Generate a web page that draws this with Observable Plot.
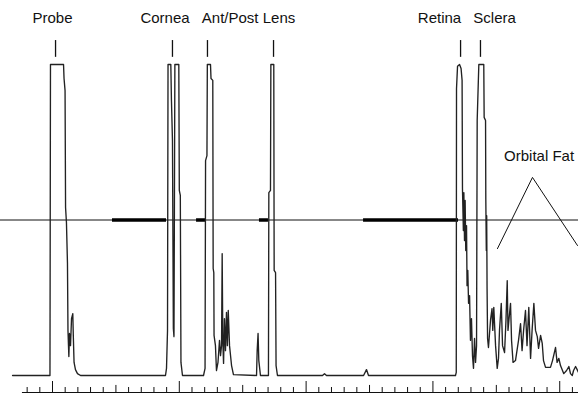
<!DOCTYPE html>
<html>
<head>
<meta charset="utf-8">
<script src="https://cdn.jsdelivr.net/npm/d3@7"></script>
<script src="https://cdn.jsdelivr.net/npm/@observablehq/plot@0.6"></script>
<style>
  html, body { margin: 0; padding: 0; background: #fff; }
  #chart svg { display: block; }
</style>
</head>
<body>
<div id="chart"></div>
<script>
// A-scan echo trace: depth (mm) vs echo amplitude (% of saturation)
const depthMm = [
  6.85, 9.80, 9.84, 10.87, 10.91, 10.99, 11.03, 11.10, 11.18, 11.22,
  11.29, 11.34, 11.42, 11.50, 11.60, 11.64, 11.70, 11.81, 11.97, 12.21,
  18.91, 18.99, 19.07, 19.11, 19.33, 19.38, 19.46, 19.53, 19.58, 19.65,
  19.96, 20.00, 20.08, 20.13, 20.25, 21.91, 22.03, 22.07, 22.18, 22.21,
  22.46, 22.50, 22.64, 22.67, 22.72, 22.74, 22.85, 22.93, 23.05, 23.17,
  23.25, 23.33, 23.38, 23.43, 23.49, 23.56, 23.64, 23.72, 23.79, 23.86,
  23.96, 24.12, 24.27, 26.09, 26.14, 26.21, 26.27, 26.40, 27.03, 27.06,
  27.19, 27.22, 27.45, 27.48, 27.59, 27.63, 27.74, 31.29, 31.45, 31.61,
  34.53, 34.76, 34.92, 41.78, 41.84, 41.86, 41.94, 42.10, 42.22, 42.30,
  42.33, 42.40, 42.44, 42.49, 42.54, 42.59, 42.65, 42.69, 42.75, 42.81,
  42.89, 42.96, 43.04, 43.12, 43.20, 43.28, 43.36, 43.44, 43.49, 43.62,
  44.01, 44.04, 44.15, 44.17, 44.21, 44.24, 44.27, 44.31, 44.38, 44.54,
  44.66, 44.72, 44.80, 44.94, 45.07, 45.17, 45.25, 45.39, 45.49, 45.65,
  45.76, 45.86, 45.92, 45.99, 46.12, 46.20, 46.32, 46.51, 46.75, 46.91,
  47.03, 47.15, 47.30, 47.42, 47.56, 47.70, 47.82, 47.96, 48.09, 48.23,
  48.33, 48.49, 48.62, 48.72, 48.88, 49.27, 49.43, 49.67, 49.79, 49.93,
  50.06, 50.32, 50.54, 50.72, 50.85, 50.99, 51.09, 51.25, 51.48
];
const amplitude = [
  0, 0, 100, 100, 95.5, 91.6, 54.0, 49.2, 36.0, 14.5,
  6.1, 13.5, 9.6, 18.3, 19.9, 12.9, 4.2, 1.9, 0.6, 0,
  0, 2.3, 14.5, 100, 100, 88.4, 75.6, 15.1, 12.5, 100,
  100, 59.5, 57.9, 4.2, 0, 0, 2.3, 69.1, 70.7, 100,
  100, 95.5, 94.9, 34.4, 33.1, 12.9, 9.6, 1.6, 4.2, 11.3,
  6.4, 9.6, 39.2, 11.3, 3.9, 18.3, 8.0, 20.3, 9.6, 20.9,
  9.6, 3.2, 0.3, 0, 8.0, 13.5, 4.8, 0, 0, 58.8,
  59.5, 100, 100, 33.8, 33.1, 3.2, 0, 0, 0.6, 0,
  0, 1.9, 0, 0, 1.0, 92.3, 99.4, 100, 98.7, 94.9,
  60.1, 46.6, 58.8, 43.4, 56.3, 40.2, 48.2, 28.9, 33.8, 23.2,
  25.7, 11.3, 18.3, 6.4, 2.3, 11.9, 4.2, 9.6, 82.0, 100,
  100, 83.0, 82.0, 56.9, 40.2, 51.4, 28.0, 11.9, 9.0, 17.7,
  21.5, 14.5, 21.9, 9.6, 2.3, 5.5, 14.5, 23.2, 9.6, 7.4,
  17.7, 30.5, 14.5, 17.7, 23.2, 11.3, 4.2, 4.8, 11.3, 16.7,
  8.0, 14.5, 20.9, 9.6, 21.9, 5.5, 14.5, 23.2, 14.5, 12.5,
  8.7, 12.9, 10.3, 4.8, 2.6, 2.6, 4.8, 9.0, 4.2, 5.5,
  3.2, 0.6, 1.6, 2.9, 0.6, 0, 1.6, 2.9, 1.0
];

// Structure labels (text centre) and their marker positions (mm)
const labelNames = ["Probe", "Cornea", "Ant/Post Lens", "Retina", "Sclera"];
const labelX = [10.0, 18.87, 25.46, 40.52, 44.86];
const markerX = [10.24, 19.46, 22.22, 27.43, 42.18, 43.75];

// Orbital fat annotation: label and triangle outline (mm, %)
const fatLabel = "Orbital Fat";
const fatLabelX = 48.37;
const fatTriX = [45.09, 47.85, 51.40];
const fatTriY = [40.8, 63.7, 41.8];

// Threshold level (%) and gate intervals (mm)
const threshold = 50;
const gateStart = [14.73, 21.36, 26.32, 34.53];
const gateEnd = [18.99, 22.07, 27.03, 42.02];

// Depth axis ticks (mm)
const tickMm = d3.range(8, 52);

// ---- build tables ----
const trace = depthMm.map((d, i) => ({depth: d, amp: amplitude[i]}));
const labels = labelNames.map((n, i) => ({name: n, x: labelX[i]}));
const gates = gateStart.map((s, i) => ({x1: s, x2: gateEnd[i]}));
const tri = fatTriX.map((x, i) => ({x, y: fatTriY[i]}));
const ticks = tickMm.map(t => ({t, kind: t % 10 === 0 ? 2 : (t % 5 === 0 ? 1 : 0)}));

const axisLevel = -5.47;
const tickTop = [-3.86, -3.2, -1.93];
const font = "'Liberation Sans', Arial, sans-serif";

const chart = Plot.plot({
  width: 578,
  height: 394,
  margin: 0,
  style: {background: "#fff", fontFamily: font},
  x: {domain: [5.899, 51.48], axis: null},
  y: {domain: [0, 100], range: [375, 64], axis: null},
  marks: [
    Plot.ruleY([threshold], {stroke: "#111", strokeWidth: 1}),
    Plot.ruleY(gates, {y: threshold, x1: "x1", x2: "x2", stroke: "#000", strokeWidth: 3.5}),
    Plot.line(trace, {x: "depth", y: "amp", stroke: "#222", strokeWidth: 1.35}),
    Plot.ruleX(markerX, {x: d => d, y1: 102.3, y2: 107.7, stroke: "#111", strokeWidth: 1.3}),
    Plot.text(labels, {x: "x", y: 113.5, text: "name", lineAnchor: "bottom", fontSize: 15, fill: "#111", fontFamily: font}),
    Plot.text([fatLabel], {x: fatLabelX, y: 69.1, text: d => d, lineAnchor: "bottom", fontSize: 15, fill: "#111", fontFamily: font}),
    Plot.line(tri, {x: "x", y: "y", stroke: "#111", strokeWidth: 1}),
    Plot.ruleY([axisLevel], {x1: 7.63, x2: 51.48, stroke: "#111", strokeWidth: 1}),
    Plot.ruleX(ticks, {x: "t", y1: axisLevel, y2: d => tickTop[d.kind], stroke: "#111", strokeWidth: 1})
  ]
});
document.getElementById("chart").appendChild(chart);
</script>
</body>
</html>
